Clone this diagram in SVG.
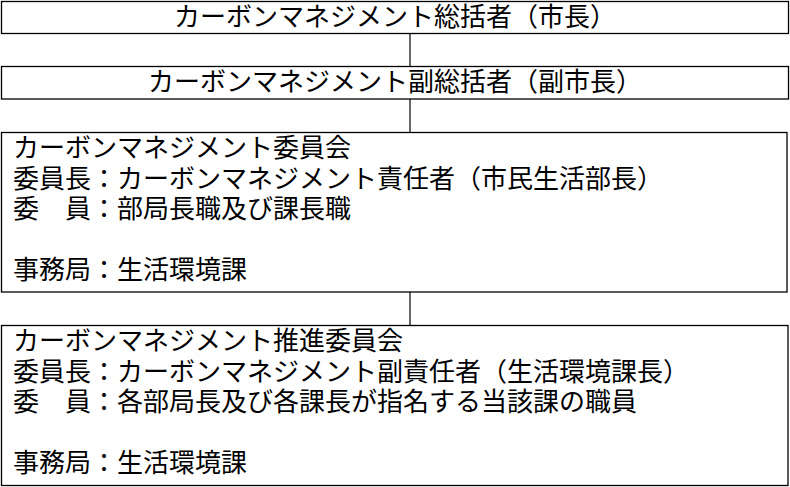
<svg xmlns="http://www.w3.org/2000/svg" width="790" height="487" viewBox="0 0 790 487">
<style>
.box{fill:#fff;stroke:#000;stroke-width:1.3}
.t{font-family:"Liberation Serif","Noto Sans CJK JP",serif;font-size:26px;fill:#000}
.c{text-anchor:middle}
.line{stroke:#000;stroke-width:1.2;fill:none}
</style>
<rect width="790" height="487" fill="#fff"/>
<g id="connectors">
<line class="line" x1="410" y1="33" x2="410" y2="66"/>
<line class="line" x1="410" y1="99" x2="410" y2="132"/>
<line class="line" x1="410" y1="292" x2="410" y2="325"/>
</g>
<g id="node-sokatsusha">
<rect class="box" x="1.5" y="1.5" width="787" height="32"/>
<text class="t c" x="395" y="26">カーボンマネジメント総括者（市長）</text>
</g>
<g id="node-fuku-sokatsusha">
<rect class="box" x="1.5" y="66.5" width="787" height="32.5"/>
<text class="t c" x="395" y="91">カーボンマネジメント副総括者（副市長）</text>
</g>
<g id="node-iinkai">
<rect class="box" x="1.5" y="132.5" width="785.5" height="159.5"/>
<text class="t" x="13" y="157">カーボンマネジメント委員会</text>
<text class="t" x="13" y="187.5">委員長：カーボンマネジメント責任者（市民生活部長）</text>
<text class="t" x="13" y="218">委　員：部局長職及び課長職</text>
<text class="t" x="13" y="279">事務局：生活環境課</text>
</g>
<g id="node-suishin-iinkai">
<rect class="box" x="1.5" y="325.5" width="786.5" height="160"/>
<text class="t" x="13" y="350">カーボンマネジメント推進委員会</text>
<text class="t" x="13" y="380.5">委員長：カーボンマネジメント副責任者（生活環境課長）</text>
<text class="t" x="13" y="411">委　員：各部局長及び各課長が指名する当該課の職員</text>
<text class="t" x="13" y="472">事務局：生活環境課</text>
</g>
</svg>
